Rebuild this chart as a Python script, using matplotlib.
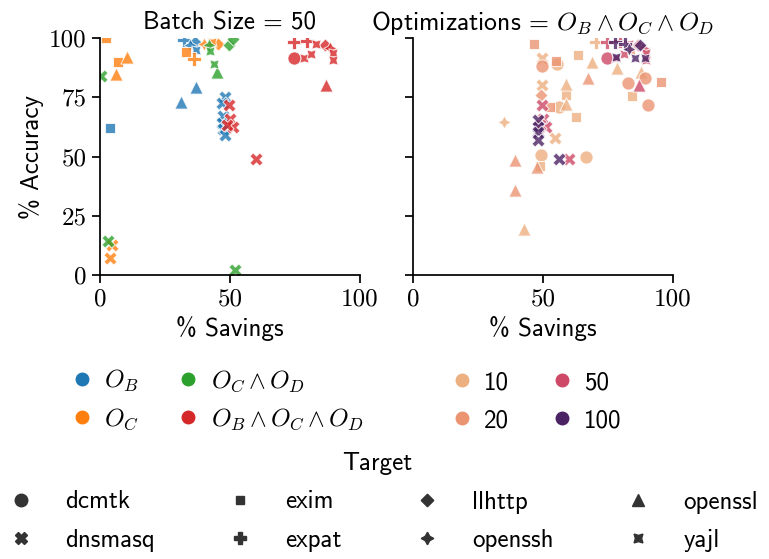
import matplotlib
matplotlib.use("Agg")
import matplotlib.pyplot as plt
from matplotlib.lines import Line2D

plt.rcParams["font.family"] = ["cmss10", "DejaVu Sans"]
plt.rcParams["mathtext.fontset"] = "cm"
plt.rcParams["font.size"] = 18
plt.rcParams["axes.unicode_minus"] = False

# marker per target (seaborn default order)
targets = ["dcmtk", "dnsmasq", "exim", "expat", "llhttp", "openssh", "openssl", "yajl"]
markers = ["o", "X", (4, 0, 45), "P", (4, 0, 0), (4, 1, 0), "^", (4, 1, 45)]

# left panel: batch size 50, by optimization
opt_labels = [r"$O_B$", r"$O_C$", r"$O_C \wedge O_D$", r"$O_B \wedge O_C \wedge O_D$"]
opt_colors = ["#1f77b4", "#ff7f0e", "#2ca02c", "#d62728"]

ob_target = ["exim", "openssl", "openssl", "expat", "openssh", "llhttp", "yajl",
             "dnsmasq", "dnsmasq", "dnsmasq", "dnsmasq", "dnsmasq", "dnsmasq"]
ob_savings = [4, 31, 37, 32.5, 34.5, 36.5, 37, 48, 47, 47.5, 47, 47.5, 48]
ob_acc = [62, 73, 79.5, 99, 97, 98.5, 95, 75, 72.5, 67, 64, 61.5, 59]

oc_target = ["exim", "exim", "openssl", "openssl", "dnsmasq", "dnsmasq", "exim",
             "expat", "openssh", "yajl", "llhttp"]
oc_savings = [2.5, 7, 10.5, 6, 4, 4.5, 33, 36, 40, 43, 45.5]
oc_acc = [100, 90, 92, 85, 7, 12.5, 94, 91, 97.5, 98.5, 97.5]

ocd_target = ["dnsmasq", "dnsmasq", "dnsmasq", "openssl", "yajl", "yajl", "openssh",
              "llhttp", "llhttp"]
ocd_savings = [0.5, 3.2, 52, 45, 44, 42.5, 42, 49.5, 51]
ocd_acc = [84, 14.5, 2, 85.5, 89, 94.5, 97, 97, 99.5]

all_target = ["expat", "expat", "yajl", "llhttp", "openssh", "yajl", "yajl", "dcmtk",
              "yajl", "yajl", "openssl", "dnsmasq", "dnsmasq", "dnsmasq", "dnsmasq", "dnsmasq"]
all_savings = [74.5, 79.5, 83, 86.5, 88.5, 89.5, 89.5, 74.5, 78.3, 81.2, 87, 49.5, 50, 51.3, 49, 60]
all_acc = [98.5, 98.7, 97.5, 97, 95.7, 93.5, 90.7, 91.5, 91.4, 93.1, 80, 71.7, 66, 62.6, 63.5, 49]

# right panel: all optimizations, by batch size
batch_labels = ["10", "20", "50", "100"]
batch_colors = ["#edb081", "#ea9472", "#ce4967", "#4b2364"]

b10_target = ["dnsmasq", "dcmtk", "exim", "openssl", "openssl", "openssl", "exim", "exim",
              "dcmtk", "dcmtk", "dcmtk", "dnsmasq", "dnsmasq", "openssh", "exim", "openssl",
              "expat", "openssl", "openssl", "exim", "yajl"]
b10_savings = [49.5, 55.3, 63.6, 69, 58.8, 59, 58.8, 62.7, 56.2, 49.2, 66.4, 49.5, 54.6,
               35, 48.8, 42.7, 70.6, 78.6, 87.9, 84.4, 89.7]
b10_acc = [91.4, 88.9, 92.8, 90, 80.4, 72, 75.9, 66.5, 71, 50.6, 49.7, 80, 57.7, 64.7,
           46, 19.4, 98.4, 87.2, 85.8, 75.7, 94.6]

b20_target = ["exim", "exim", "exim", "exim", "dcmtk", "dcmtk", "dcmtk", "dcmtk",
              "openssl", "openssl", "openssl", "openssl", "llhttp", "yajl"]
b20_savings = [46.7, 55.2, 52.7, 95.6, 49.5, 82.8, 89.2, 90.3, 67.4, 39.2, 47.6, 39.2, 49.2, 84]
b20_acc = [97.5, 90.4, 71, 81.6, 88, 81, 83, 71.7, 83.3, 48.5, 45.7, 36, 76, 95]

b100_target = ["dnsmasq", "dnsmasq", "dnsmasq", "dnsmasq", "dnsmasq", "expat", "expat",
               "llhttp", "yajl", "yajl", "yajl", "openssh"]
b100_savings = [48.2, 48.2, 48.2, 48.2, 56.2, 77.7, 81.5, 87.3, 78.3, 85.4, 89.2, 83]
b100_acc = [65.4, 62.6, 60.2, 57, 48.9, 98.4, 97.6, 97, 92.1, 91.4, 91.4, 95.5]


def draw(ax, tgt, xs, ys, color):
    for t, m in zip(targets, markers):
        idx = [i for i, v in enumerate(tgt) if v == t]
        if not idx:
            continue
        ax.scatter([xs[i] for i in idx], [ys[i] for i in idx], s=90, marker=m,
                   color=color, alpha=0.8, edgecolor="white", linewidth=0.75)


fig, (ax1, ax2) = plt.subplots(1, 2, sharey=True, figsize=(7.69, 5.59), dpi=100)
fig.subplots_adjust(left=0.130, right=0.875, bottom=0.508, top=0.932, wspace=0.204)

left_groups = [(ob_target, ob_savings, ob_acc), (oc_target, oc_savings, oc_acc),
               (ocd_target, ocd_savings, ocd_acc), (all_target, all_savings, all_acc)]
for (tg, xs, ys), c in zip(left_groups, opt_colors):
    draw(ax1, tg, xs, ys, c)

right_groups = [(b10_target, b10_savings, b10_acc), (b20_target, b20_savings, b20_acc),
                (all_target, all_savings, all_acc), (b100_target, b100_savings, b100_acc)]
for (tg, xs, ys), c in zip(right_groups, batch_colors):
    draw(ax2, tg, xs, ys, c)

ax1.set_title("Batch Size = 50", fontsize=18)
ax2.set_title(r"Optimizations = $O_B \wedge O_C \wedge O_D$", fontsize=18.5)
ax1.set_ylabel("% Accuracy")
for ax in (ax1, ax2):
    ax.set_xlim(0, 100)
    ax.set_ylim(0, 100)
    ax.set_xticks([0, 50, 100])
    ax.set_yticks([0, 25, 50, 75, 100])
    ax.set_xlabel("% Savings")
    ax.spines["top"].set_visible(False)
    ax.spines["right"].set_visible(False)
    for s in ("left", "bottom"):
        ax.spines[s].set_linewidth(1.25)
    ax.tick_params(length=6, width=1.25, labelfontfamily="cmr10", labelsize=18)

h1 = [Line2D([], [], ls="", marker="o", markersize=9, color=c, label=l)
      for c, l in zip(opt_colors, opt_labels)]
fig.legend(handles=h1, loc="upper left", bbox_to_anchor=(69 / 769, 1 - 368 / 559),
           ncol=2, frameon=False, handlelength=1, handletextpad=0.4, columnspacing=1.5,
           borderpad=0, borderaxespad=0, labelspacing=0.5)

h2 = [Line2D([], [], ls="", marker="o", markersize=9, color=c, label=l)
      for c, l in zip(batch_colors, batch_labels)]
fig.legend(handles=h2, loc="upper left", bbox_to_anchor=(449 / 769, 1 - 371 / 559),
           ncol=2, frameon=False, handlelength=1, handletextpad=0.4, columnspacing=1.6,
           borderpad=0, borderaxespad=0, labelspacing=0.6)

h3 = [Line2D([], [], ls="", marker=m, markersize=9, color="#333333", label=t)
      for t, m in zip(targets, markers)]
fig.legend(handles=h3, title="Target", loc="upper center",
           bbox_to_anchor=(0.49, 1 - 452 / 559), ncol=4, frameon=False,
           columnspacing=2.4, borderpad=0, borderaxespad=0, labelspacing=0.62,
           title_fontsize=18)

fig.savefig("out.png", dpi=100)
